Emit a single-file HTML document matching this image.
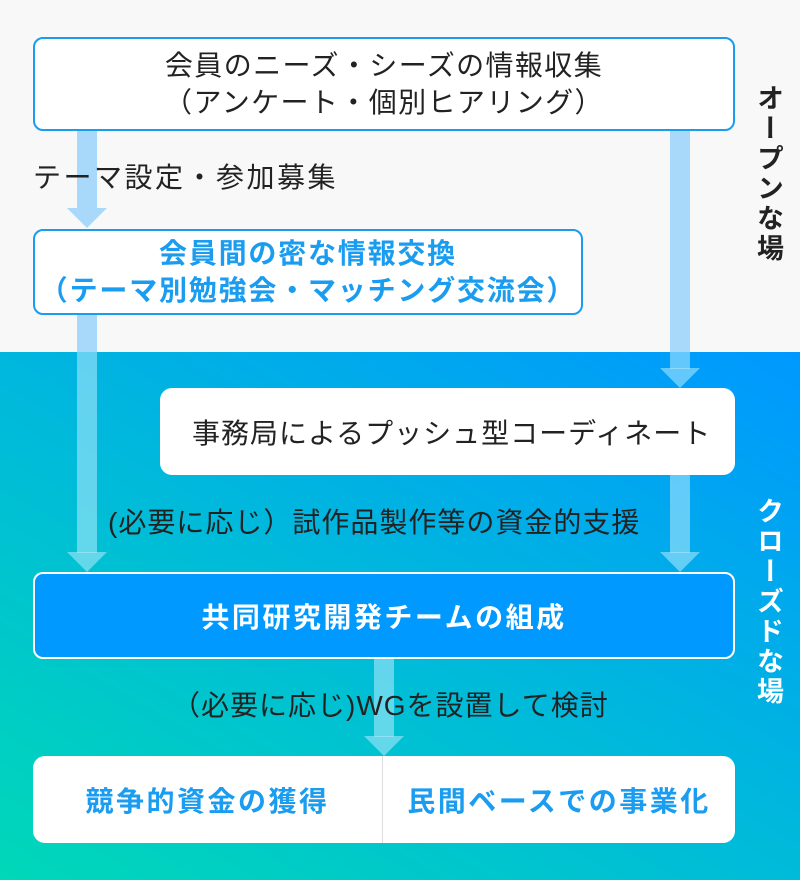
<!DOCTYPE html>
<html><head><meta charset="utf-8"><style>
*{margin:0;padding:0;box-sizing:border-box}
body{width:800px;height:880px;position:relative;overflow:hidden;font-family:"Liberation Sans","Noto Sans CJK JP",sans-serif;background:#f8f8f8;letter-spacing:1px}
.bot{position:absolute;left:0;top:352px;width:800px;height:528px;background:linear-gradient(30deg,#00d8b8 0%,#00bcd8 45%,#0098ff 100%)}
.box{position:absolute;display:flex;flex-direction:column;align-items:center;justify-content:center;text-align:center}
.b{letter-spacing:2.5px}
.t{position:absolute;font-size:28px;color:#222;white-space:nowrap;line-height:1}
.v{position:absolute;writing-mode:vertical-rl;text-orientation:upright;font-size:27px;font-weight:bold;line-height:1;letter-spacing:3px}
</style></head><body>
<div class="bot"></div>
<svg width="800" height="880" style="position:absolute;left:0;top:0">
<g fill="#a8d8fa">
<rect x="77" y="131" width="20" height="78"/><polygon points="67,208 107,208 87,228"/>
<rect x="670" y="131" width="20" height="221"/>
</g>
<g fill="rgba(180,235,255,0.55)">
<rect x="77" y="315" width="20" height="37" fill="#a8d8fa"/>
<rect x="77" y="352" width="20" height="201"/><polygon points="67,552 107,552 87,572"/>
<rect x="670" y="352" width="20" height="17"/><polygon points="660,368 700,368 680,388"/>
<rect x="670" y="475" width="20" height="78"/><polygon points="660,552 700,552 680,572"/>
<rect x="374" y="659" width="20" height="78"/><polygon points="364,736 404,736 384,756"/>
</g>
</svg>
<div class="box" style="left:33px;top:37px;width:702px;height:94px;background:#fff;border:2px solid #1a9cf0;border-radius:10px;font-size:28px;color:#222;line-height:37px;letter-spacing:1.4px">会員のニーズ・シーズの情報収集<br>（アンケート・個別ヒアリング）</div>
<div class="t" style="left:33px;top:164px;letter-spacing:2.5px">テーマ設定・参加募集</div>
<div class="box b" style="left:33px;top:229px;width:550px;height:86px;background:#fff;border:2px solid #1a9cf0;border-radius:10px;font-size:28px;font-weight:bold;color:#1a9cf0;line-height:37px;letter-spacing:1.8px">会員間の密な情報交換<br>（テーマ別勉強会・マッチング交流会）</div>
<div class="box" style="left:160px;top:388px;width:575px;height:87px;background:#fff;border-radius:12px;font-size:28px;color:#222;align-items:flex-start;padding-left:32px">事務局によるプッシュ型コーディネート</div>
<div class="t" style="left:108px;top:509px">(必要に応じ）試作品製作等の資金的支援</div>
<div class="box b" style="left:33px;top:572px;width:702px;height:87px;background:#0099ff;border:2px solid #fff;border-radius:10px;font-size:28px;font-weight:bold;color:#fff">共同研究開発チームの組成</div>
<div class="t" style="left:172px;top:692px">（必要に応じ)WGを設置して検討</div>
<div class="b" style="position:absolute;left:33px;top:756px;width:702px;height:87px;background:#fff;border-radius:12px;display:flex">
<div style="width:350px;display:flex;align-items:center;justify-content:center;font-size:28px;font-weight:bold;color:#1a9cf0;border-right:1px solid #ddd">競争的資金の獲得</div>
<div style="flex:1;display:flex;align-items:center;justify-content:center;font-size:28px;font-weight:bold;color:#1a9cf0">民間ベースでの事業化</div>
</div>
<div class="v" style="left:754px;top:84px;color:#222">オープンな場</div>
<div class="v" style="left:754px;top:497px;color:#fff">クローズドな場</div>
</body></html>
